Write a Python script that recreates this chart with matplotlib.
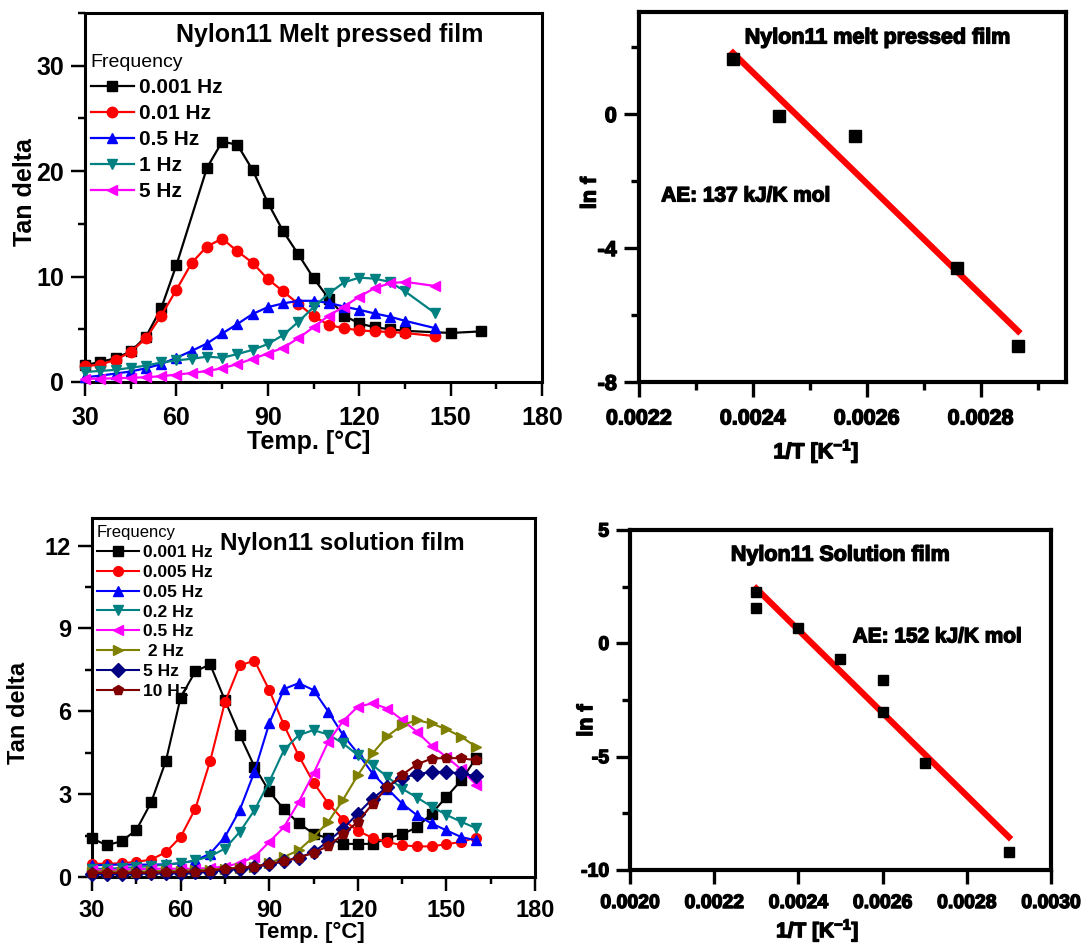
import numpy as np
import matplotlib
matplotlib.use('Agg')
import matplotlib.pyplot as plt
from matplotlib.ticker import MultipleLocator, FormatStrFormatter
import matplotlib.patheffects as pe

plt.rcParams['font.family'] = ['Liberation Sans', 'DejaVu Sans']
plt.rcParams['font.weight'] = 'bold'
plt.rcParams['axes.labelweight'] = 'bold'
plt.rcParams['mathtext.fontset'] = 'custom'
plt.rcParams['mathtext.rm'] = 'Liberation Sans'
plt.rcParams['mathtext.bf'] = 'Liberation Sans:bold'
plt.rcParams['mathtext.default'] = 'bf'

### Melt pressed film: tan delta vs temperature
melt_labels = ['0.001 Hz', '0.01 Hz', '0.5 Hz', '1 Hz', '5 Hz']
melt_T_black = [30, 35, 40, 45, 50, 55, 60, 70, 75, 80, 85, 90, 95, 100, 105, 110,
                115, 120, 125, 130, 135, 150, 160]
melt_black = [1.6, 1.9, 2.25, 2.9, 4.3, 7.0, 11.1, 20.3, 22.8, 22.5, 20.1, 17.0, 14.3,
              12.1, 9.85, 7.9, 6.3, 5.55, 5.2, 5.0, 4.85, 4.65, 4.8]
melt_T = [30, 35, 40, 45, 50, 55, 60, 65, 70, 75, 80, 85, 90, 95, 100, 105, 110,
          115, 120, 125, 130, 135, 145]
melt_red = [1.5, 1.65, 2.1, 2.85, 4.15, 6.3, 8.75, 11.3, 12.85, 13.6, 12.4, 11.3, 9.75,
            8.6, 7.4, 6.25, 5.4, 5.1, 4.9, 4.8, 4.75, 4.65, 4.35]
melt_blue = [0.45, 0.6, 0.8, 1.0, 1.3, 1.7, 2.3, 2.95, 3.65, 4.6, 5.5, 6.45, 7.1, 7.45,
             7.7, 7.7, 7.5, 7.15, 6.85, 6.5, 6.2, 5.8, 5.1]
melt_teal = [0.95, 1.05, 1.15, 1.35, 1.55, 1.85, 2.05, 2.2, 2.4, 2.3, 2.65, 3.05, 3.6,
             4.45, 5.7, 7.1, 8.4, 9.45, 9.9, 9.8, 9.5, 8.6, 6.5]
melt_mag = [0.3, 0.32, 0.35, 0.4, 0.45, 0.55, 0.7, 0.85, 1.05, 1.3, 1.7, 2.2, 2.7, 3.25,
            4.15, 5.2, 6.3, 7.15, 8.1, 8.9, 9.35, 9.5, 9.1]

### Solution film: tan delta vs temperature
sol_labels = ['0.001 Hz', '0.005 Hz', '0.05 Hz', '0.2 Hz', '0.5 Hz', ' 2 Hz', '5 Hz', '10 Hz']
sol_T = list(range(30, 161, 5))
sol_black = [1.4, 1.15, 1.3, 1.7, 2.7, 4.2, 6.5, 7.45, 7.7, 6.4, 5.15, 4.0, 3.1, 2.45,
             1.95, 1.57, 1.4, 1.2, 1.2, 1.2, 1.4, 1.55, 1.8, 2.3, 2.9, 3.5, 4.3]
sol_red = [0.48, 0.48, 0.5, 0.55, 0.63, 0.9, 1.45, 2.48, 4.2, 6.33, 7.66, 7.84, 6.77,
           5.5, 4.39, 3.42, 2.66, 2.08, 1.67, 1.42, 1.27, 1.15, 1.11, 1.11, 1.19, 1.27, 1.43]
sol_blue = [0.42, 0.44, 0.45, 0.45, 0.45, 0.46, 0.5, 0.6, 0.85, 1.45, 2.42, 3.81, 5.56,
            6.81, 7.02, 6.77, 5.99, 5.14, 4.48, 3.75, 3.2, 2.66, 2.24, 1.94, 1.69, 1.45, 1.33]
sol_teal = [0.3, 0.3, 0.33, 0.36, 0.4, 0.45, 0.5, 0.6, 0.75, 1.03, 1.63, 2.42, 3.45,
            4.6, 5.14, 5.32, 5.16, 4.84, 4.41, 4.05, 3.63, 3.2, 2.88, 2.55, 2.25, 2.0, 1.77]
sol_mag = [0.25, 0.25, 0.27, 0.28, 0.3, 0.3, 0.3, 0.3, 0.33, 0.38, 0.5, 0.73, 1.27, 1.81,
           2.72, 3.75, 4.9, 5.65, 6.17, 6.29, 6.1, 5.69, 5.26, 4.75, 4.35, 3.9, 3.35]
sol_olive = [0.2, 0.2, 0.2, 0.2, 0.21, 0.22, 0.23, 0.25, 0.27, 0.3, 0.33, 0.38, 0.5, 0.73,
             0.97, 1.45, 2.0, 2.8, 3.69, 4.48, 5.1, 5.5, 5.68, 5.56, 5.35, 5.08, 4.72]
sol_navy = [0.12, 0.12, 0.12, 0.13, 0.13, 0.14, 0.15, 0.17, 0.2, 0.25, 0.3, 0.37, 0.46,
            0.57, 0.7, 0.9, 1.3, 1.75, 2.3, 2.84, 3.27, 3.6, 3.72, 3.81, 3.8, 3.75, 3.65]
sol_dred = [0.15, 0.15, 0.15, 0.15, 0.16, 0.17, 0.18, 0.2, 0.23, 0.3, 0.33, 0.37, 0.47,
            0.58, 0.7, 0.88, 1.12, 1.55, 2.0, 2.65, 3.25, 3.7, 4.08, 4.29, 4.31, 4.3, 4.23]

### Arrhenius data (ln f vs 1/T)
melt_invT = [0.002365, 0.002446, 0.00258, 0.002758, 0.002866]
melt_lnf = [1.64, -0.05, -0.66, -4.6, -6.93]
sol_invT = [0.0023, 0.0023, 0.0024, 0.0025, 0.0026, 0.0026, 0.0027, 0.0029]
sol_lnf = [2.25, 1.58, 0.66, -0.7, -1.63, -3.04, -5.29, -9.2]

colors = ['#000000', '#ff0000', '#0000ff', '#008080', '#ff00ff', '#808000', '#000080', '#800000']
markers = ['s', 'o', '^', 'v', '<', '>', 'D', 'p']

fig = plt.figure(figsize=(10.89, 9.46), dpi=100)

ax1 = fig.add_axes([0.0781, 0.5962, 0.4197, 0.3901])
ax2 = fig.add_axes([0.5868, 0.5962, 0.3921, 0.3911])
ax3 = fig.add_axes([0.0845, 0.0729, 0.4068, 0.3795])
ax4 = fig.add_axes([0.5785, 0.0803, 0.3866, 0.3594])


def style_axes(ax, spine_w, tick_size, major_len, minor_len, pad_x, pad_y):
    for sp in ax.spines.values():
        sp.set_linewidth(spine_w)
    ax.tick_params(which='both', direction='out', top=False, right=False,
                   width=spine_w * 0.8, labelsize=tick_size)
    ax.tick_params(which='major', length=major_len)
    ax.tick_params(which='minor', length=minor_len)
    ax.tick_params(axis='x', which='major', pad=pad_x)
    ax.tick_params(axis='y', which='major', pad=pad_y)


# Top left: melt pressed film
melt_series = [(melt_T_black, melt_black), (melt_T, melt_red), (melt_T, melt_blue),
               (melt_T, melt_teal), (melt_T, melt_mag)]
for i, (tx, ty) in enumerate(melt_series):
    ax1.plot(tx, ty, color=colors[i], marker=markers[i], ms=7.5, lw=1.6,
             label=melt_labels[i], clip_on=False, zorder=3 + i)
ax1.set_xlim(30, 180)
ax1.set_ylim(0, 35)
ax1.xaxis.set_major_locator(MultipleLocator(30))
ax1.xaxis.set_minor_locator(MultipleLocator(15))
ax1.yaxis.set_major_locator(MultipleLocator(10))
ax1.yaxis.set_minor_locator(MultipleLocator(5))
style_axes(ax1, 2.2, 18, 10, 5, 7, 5)
ax1.set_xlabel('Temp. [°C]', fontsize=18)
ax1.set_ylabel('Tan delta', fontsize=18)
ax1.xaxis.set_label_coords(0.489, -0.13)
ax1.yaxis.set_label_coords(-0.106, 0.515)
ax1.text(0.536, 0.94, 'Nylon11 Melt pressed film', transform=ax1.transAxes,
         ha='center', va='center', fontsize=18)
leg1 = ax1.legend(loc='upper left', bbox_to_anchor=(0.012, 0.889), frameon=False,
                  title='Frequency', prop={'size': 15, 'weight': 'bold'},
                  title_fontproperties={'size': 14, 'weight': 'normal'},
                  handlelength=2.1, handletextpad=0.25, labelspacing=0.34,
                  borderpad=0, borderaxespad=0, alignment='left')

# Top right: Arrhenius plot, melt pressed film
heavy = [pe.withStroke(linewidth=1.0, foreground='black')]
ax2.plot(melt_invT, melt_lnf, 's', color='black', ms=8.5, zorder=3)
k, b = np.polyfit(melt_invT, melt_lnf, 1)
xf = np.array([min(melt_invT), max(melt_invT)])
ax2.plot(xf, k * xf + b, color='#ff0000', lw=4.5, zorder=2)
ax2.set_xlim(0.0022, 0.00295)
ax2.set_ylim(-8, 3.05)
ax2.xaxis.set_major_locator(MultipleLocator(0.0002))
ax2.xaxis.set_minor_locator(MultipleLocator(0.0001))
ax2.xaxis.set_major_formatter(FormatStrFormatter('%.4f'))
ax2.yaxis.set_major_locator(MultipleLocator(4))
ax2.yaxis.set_minor_locator(MultipleLocator(2))
ax2.yaxis.set_major_formatter(FormatStrFormatter('%d'))
style_axes(ax2, 3.0, 15.5, 11, 6, 8, 5)
ax2.set_xlabel('1/T [K$^{-1}$]', fontsize=15.5)
ax2.set_ylabel('ln f', fontsize=15.5)
ax2.xaxis.set_label_coords(0.415, -0.15)
ax2.yaxis.set_label_coords(-0.09, 0.511)
ax2.text(0.559, 0.93, 'Nylon11 melt pressed film', transform=ax2.transAxes,
         ha='center', va='center', fontsize=15.5)
ax2.text(0.052, 0.503, 'AE: 137 kJ/K mol', transform=ax2.transAxes,
         ha='left', va='center', fontsize=15)

# Bottom left: solution film
sol_series = [sol_black, sol_red, sol_blue, sol_teal, sol_mag, sol_olive, sol_navy, sol_dred]
for i, ty in enumerate(sol_series):
    ax3.plot(sol_T, ty, color=colors[i], marker=markers[i], ms=7, lw=1.5,
             label=sol_labels[i], clip_on=False, zorder=3 + i)
ax3.set_xlim(30, 180)
ax3.set_ylim(0, 13)
ax3.xaxis.set_major_locator(MultipleLocator(30))
ax3.xaxis.set_minor_locator(MultipleLocator(15))
ax3.yaxis.set_major_locator(MultipleLocator(3))
ax3.yaxis.set_minor_locator(MultipleLocator(1.5))
style_axes(ax3, 2.2, 17, 10, 5, 6, 5)
ax3.set_xlabel('Temp. [°C]', fontsize=16)
ax3.set_ylabel('Tan delta', fontsize=17)
ax3.xaxis.set_label_coords(0.492, -0.125)
ax3.yaxis.set_label_coords(-0.141, 0.457)
ax3.text(0.565, 0.93, 'Nylon11 solution film', transform=ax3.transAxes,
         ha='center', va='center', fontsize=17.5)
leg3 = ax3.legend(loc='upper left', bbox_to_anchor=(0.011, 0.98), frameon=False,
                  title='Frequency', prop={'size': 12.5, 'weight': 'bold'},
                  title_fontproperties={'size': 12, 'weight': 'normal'},
                  handlelength=2.4, handletextpad=0.25, labelspacing=0.27,
                  borderpad=0, borderaxespad=0, alignment='left')

# Bottom right: Arrhenius plot, solution film
ax4.plot(sol_invT, sol_lnf, 's', color='black', ms=7.5, zorder=3)
k2, b2 = np.polyfit(sol_invT, sol_lnf, 1)
xf2 = np.array([min(sol_invT), max(sol_invT)])
ax4.plot(xf2, k2 * xf2 + b2, color='#ff0000', lw=4.5, zorder=2)
ax4.set_xlim(0.0020, 0.0030)
ax4.set_ylim(-10, 5)
ax4.xaxis.set_major_locator(MultipleLocator(0.0002))
ax4.xaxis.set_major_formatter(FormatStrFormatter('%.4f'))
ax4.yaxis.set_major_locator(MultipleLocator(5))
ax4.yaxis.set_minor_locator(MultipleLocator(2.5))
ax4.yaxis.set_major_formatter(FormatStrFormatter('%d'))
style_axes(ax4, 3.0, 14, 10, 6, 8, 5)
ax4.set_xlabel('1/T [K$^{-1}$]', fontsize=15)
ax4.set_ylabel('ln f', fontsize=15.5)
ax4.xaxis.set_label_coords(0.446, -0.14)
ax4.yaxis.set_label_coords(-0.078, 0.44)
ax4.text(0.50, 0.926, 'Nylon11 Solution film', transform=ax4.transAxes,
         ha='center', va='center', fontsize=15.5)
ax4.text(0.529, 0.686, 'AE: 152 kJ/K mol', transform=ax4.transAxes,
         ha='left', va='center', fontsize=15)

# heavier text on the Arrhenius panels
for ax in (ax2, ax4):
    for t in ax.texts + ax.get_xticklabels() + ax.get_yticklabels() + \
            [ax.xaxis.label, ax.yaxis.label]:
        t.set_path_effects(heavy)

fig.savefig('out.png', dpi=100)
